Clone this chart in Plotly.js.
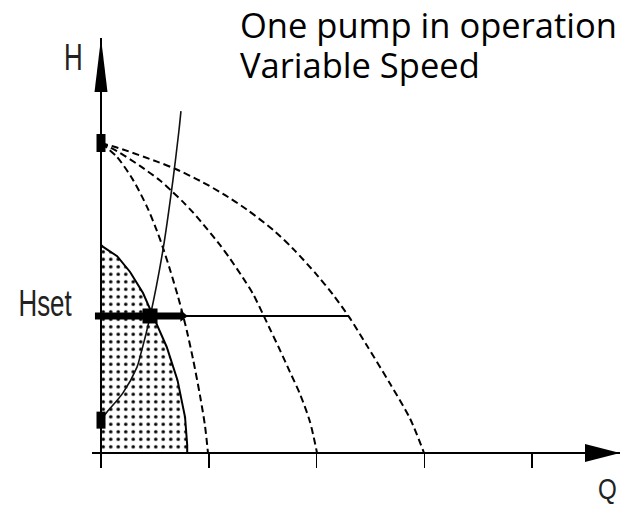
<!DOCTYPE html>
<html>
<head>
<meta charset="utf-8">
<script src="https://cdn.plot.ly/plotly-3.0.1.min.js"></script>
<style>html,body{margin:0;padding:0;background:#fff;}#chart{width:622px;height:507px;}</style>
</head>
<body>
<div id="chart"></div>
<script>
// ---- data (Q in tick units, H in relative head units) ----
const qTicks = [1, 2, 3, 4];

const outerQ = [0, 0.204, 0.520, 0.687, 0.919, 1.132, 1.355, 1.606, 1.782, 2.005, 2.153, 2.302, 2.469, 2.682, 2.868, 2.998];
const outerH = [10.0, 9.79, 9.40, 9.17, 8.78, 8.36, 7.85, 7.17, 6.59, 5.74, 5.11, 4.39, 3.46, 2.24, 1.11, 0];

const middleQ = [0, 0.148, 0.362, 0.548, 0.659, 0.761, 0.854, 0.984, 1.104, 1.197, 1.318, 1.411, 1.503, 1.568, 1.661, 1.754, 1.847, 1.940, 2.005];
const middleH = [10.0, 9.74, 9.26, 8.79, 8.44, 8.10, 7.76, 7.23, 6.71, 6.27, 5.65, 5.13, 4.48, 4.00, 3.32, 2.61, 1.90, 1.00, 0];

const innerQ = [0, 0.148, 0.297, 0.427, 0.520, 0.575, 0.640, 0.715, 0.761, 0.798, 0.854, 0.919, 0.965, 0.993];
const innerH = [10.0, 9.55, 8.81, 7.94, 7.16, 6.62, 5.92, 5.04, 4.44, 3.92, 3.03, 1.85, 0.88, 0];

const minQ = [0, 0.02, 0.15, 0.27, 0.39, 0.48, 0.61, 0.71, 0.78, 0.80, 0.80];
const minH = [6.71, 6.65, 6.35, 5.84, 5.16, 4.45, 3.42, 2.35, 1.16, 0.26, 0];

const sysQ = [0, 0.056, 0.204, 0.334, 0.362, 0.455, 0.575, 0.668, 0.724, 0.742];
const sysH = [1.06, 1.32, 1.94, 2.77, 3.10, 4.39, 6.55, 8.81, 10.42, 11.03];

const shutoffH = 10.0;
const staticH = 1.06;
const Hset = 4.42;
const opQ = 0.455;
const hsetThickQ = [-0.056, 0.76];
const hsetThinQ = [0.76, 2.30];

const titleLines = ['One pump in operation', 'Variable Speed'];

// ---- geometry of the frame ----
const xRange = [-0.0835, 4.8167];
const yRange = [-0.4839, 13.387];
const pxPerQ = 107.75, pxPerH = 31;

const dash = '7px,4px';
const traces = [
  { // hatched minimum-curve area
    x: [0].concat(minQ, [0]), y: [0].concat(minH, [0]),
    mode: 'lines', fill: 'toself', fillcolor: 'white',
    fillpattern: {shape: '.', size: 7.5, solidity: 0.17, fgcolor: 'black', bgcolor: 'white'},
    line: {color: 'black', width: 2}, hoverinfo: 'skip'
  },
  {x: outerQ, y: outerH, mode: 'lines', line: {color: 'black', width: 2, dash: dash, shape: 'spline', smoothing: 0.8}},
  {x: middleQ, y: middleH, mode: 'lines', line: {color: 'black', width: 2, dash: dash, shape: 'spline', smoothing: 0.8}},
  {x: innerQ, y: innerH, mode: 'lines', line: {color: 'black', width: 2, dash: dash, shape: 'spline', smoothing: 0.8}},
  {x: sysQ, y: sysH, mode: 'lines', line: {color: '#111', width: 1.6, shape: 'spline', smoothing: 0.8}},
  {x: hsetThinQ, y: [Hset, Hset], mode: 'lines', line: {color: 'black', width: 2}},
  {x: hsetThickQ, y: [Hset, Hset], mode: 'lines', line: {color: 'black', width: 7}},
  {x: [hsetThickQ[1]], y: [Hset], mode: 'markers', cliponaxis: false,
   marker: {symbol: 'triangle-right', size: 10, color: 'black'}},
  {x: [opQ], y: [Hset], mode: 'markers', cliponaxis: false,
   marker: {symbol: 'square', size: 15, color: 'black'}}
];

const hw = 4.5 / pxPerQ;
const shapes = [
  {type: 'rect', xref: 'x', yref: 'y', x0: -hw, x1: hw, y0: shutoffH - 9 / pxPerH, y1: shutoffH + 9 / pxPerH,
   fillcolor: 'black', line: {width: 0}},
  {type: 'rect', xref: 'x', yref: 'y', x0: -hw, x1: hw, y0: staticH - 8.5 / pxPerH, y1: staticH + 8.5 / pxPerH,
   fillcolor: 'black', line: {width: 0}},
  // axis arrowheads
  {type: 'path', xref: 'x', yref: 'y', fillcolor: 'black', line: {width: 0},
   path: `M ${-6.5 / pxPerQ} ${11.645} L 0 ${yRange[1]} L ${6.5 / pxPerQ} ${11.645} Z`},
  {type: 'path', xref: 'x', yref: 'y', fillcolor: 'black', line: {width: 0},
   path: `M 4.492 ${-9 / pxPerH} L ${xRange[1]} 0 L 4.492 ${9 / pxPerH} Z`}
];

const labFont = {family: 'Liberation Sans, Arial, sans-serif', color: '#222'};
const titleFont = {family: 'Open Sans, Noto Sans, sans-serif', size: 34.5, color: '#000'};
const annotations = [
  {xref: 'paper', yref: 'paper', x: -0.0341, y: 0.9535, xanchor: 'center', yanchor: 'middle',
   text: 'H', showarrow: false, font: Object.assign({size: 37}, labFont)},
  {xref: 'paper', yref: 'paper', x: -0.089, y: 0.3837, xanchor: 'center', yanchor: 'middle',
   text: 'Hset', showarrow: false, font: Object.assign({size: 37}, labFont)},
  {xref: 'paper', yref: 'paper', x: 0.9763, y: -0.0488, xanchor: 'center', yanchor: 'middle',
   text: 'Q', showarrow: false, font: Object.assign({size: 29.5}, labFont)},
  {xref: 'paper', yref: 'paper', x: 0.2756, y: 1.0905, xanchor: 'left', yanchor: 'top', align: 'left',
   text: titleLines.join('<br>'), showarrow: false, font: titleFont}
];

const axisCommon = {showgrid: false, showticklabels: false, showline: false,
  zeroline: true, zerolinecolor: 'black', zerolinewidth: 2, fixedrange: true};

const layout = {
  width: 622, height: 507,
  margin: {l: 92, r: 2, t: 38, b: 39, pad: 0},
  paper_bgcolor: 'white', plot_bgcolor: 'white',
  showlegend: false,
  xaxis: Object.assign({}, axisCommon, {range: xRange, tickmode: 'array', tickvals: qTicks,
    ticks: 'inside', ticklen: 15, tickwidth: 1.5, tickcolor: 'black'}),
  yaxis: Object.assign({}, axisCommon, {range: yRange, ticks: ''}),
  shapes: shapes,
  annotations: annotations
};

// horizontal squeeze of the axis letters (the original uses a condensed face)
const squeeze = [0.7, 0.7, 0.82];
const titleLineGap = 40; // px between the two title baselines in the reference
Plotly.newPlot('chart', traces, layout, {displayModeBar: false, staticPlot: true}).then(function (gd) {
  const texts = gd.querySelectorAll('.annotation-text');
  squeeze.forEach(function (s, i) {
    const t = texts[i];
    if (!t) return;
    t.style.transformBox = 'fill-box';
    t.style.transformOrigin = 'center';
    t.style.transform = 'scaleX(' + s + ')';
  });
  const title = texts[3];
  if (title) {
    const lines = title.querySelectorAll('tspan.line');
    if (lines.length === 2) {
      const d0 = lines[0].getAttribute('dy') || '0';
      let d0px = parseFloat(d0) || 0;
      if (/em$/.test(d0)) d0px *= titleFont.size;
      lines[1].setAttribute('dy', (d0px + titleLineGap) + 'px');
    }
  }
});
</script>
</body>
</html>
